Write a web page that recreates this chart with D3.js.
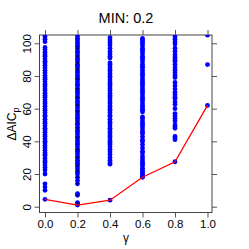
<!DOCTYPE html>
<html>
<head>
<meta charset="utf-8">
<script src="https://cdn.jsdelivr.net/npm/d3@7"></script>
<style>
  body { margin: 0; background: #fff; }
  text { font-family: "Liberation Sans", Arial, sans-serif; }
</style>
</head>
<body>
<svg id="chart" width="249" height="249"></svg>
<script>
// valeurs
const gammas = [0.0, 0.2, 0.4, 0.6, 0.8, 1.0];
const xTicks = ["0.0", "0.2", "0.4", "0.6", "0.8", "1.0"];
const yTicks = [0, 20, 40, 60, 80, 100];

const col00 = [4.5, 10, 12, 14, 20, 22.5, 24, 25.5, 27, 28, 29.5, 31, 32, 33, 34.5, 36, 37.5, 39, 40, 41.5, 43, 44, 45.5, 47, 48, 49.5, 51, 52, 53.5, 55, 56, 57.5, 59, 60, 61.5, 63, 64, 65.5, 67, 68, 69.5, 71, 72, 73.5, 75, 76.5, 78, 79, 80.5, 82, 83.5, 85, 86.5, 88, 89, 90.5, 92, 93, 94.5, 96, 97.5, 101, 102.5, 104];
const col02 = [1, 1.5, 2.5, 7, 8, 14, 16, 18, 20, 21.5, 23, 24.5, 26, 27, 28.5, 30, 31, 32.5, 34, 35, 36.5, 38, 39, 40.5, 42, 43, 44.5, 46, 47, 48.5, 50, 51, 52.5, 54, 55, 56.5, 58, 59, 60.5, 62, 63, 64.5, 66, 67, 68.5, 70, 71, 72.5, 74, 75, 76.5, 78, 79, 80.5, 82, 83, 84.5, 86, 87, 88.5, 90, 91, 92.5, 94, 95, 96.5, 98, 99, 100.5, 102, 103, 104.5];
const col02noir = [2, 7, 14, 18, 22, 25, 30, 35, 42, 48, 52, 58, 62, 67, 72, 78, 84, 88, 92, 97];
const col04 = [4, 26, 27, 28.5, 30, 32, 33.5, 35, 36.5, 38, 39, 40, 41.5, 43, 44, 45.5, 47, 48, 49.5, 51, 52, 53.5, 55, 56, 57.5, 59, 60, 61.5, 63, 64, 65.5, 67, 68, 69.5, 71, 72, 73.5, 75, 76, 77.5, 79, 80, 81.5, 83, 84, 85.5, 87, 88, 91, 92, 93.5, 95, 97, 99, 100.5, 102, 103.5];
const col06 = [18, 18.5, 19.5, 20.5, 21.5, 22.5, 23.5, 25, 26, 27, 28, 29.5, 31, 33, 34, 36, 38, 40, 41, 43, 45, 46, 47.5, 49, 50, 51, 52.5, 54, 55, 58, 59, 60, 61, 62, 63.5, 65, 66, 67, 68.5, 70, 71, 72, 73.5, 75, 76, 77, 78.5, 80, 81, 82, 83.5, 85, 86, 87, 88.5, 90, 91, 92, 93.5, 95, 96, 97, 98.5, 100, 101, 102, 103];
const col08 = [27.5, 41, 42, 43, 48, 49, 50, 52.5, 54, 55.5, 57, 60, 62.5, 64, 66, 67, 68.5, 70, 72, 74, 76, 79, 80.5, 82, 83.5, 85, 87, 89, 90, 91.5, 93, 95, 97, 99.5, 101, 102.5, 104];
const col10 = [62, 87, 105];
// minimum par gamma (courbe rouge)
const minima = [4.5, 1, 4, 18, 27.5, 62];

const colonnes = [col00, col02, col04, col06, col08, col10];

const svg = d3.select("#chart");

// zone du graphique
const boite = { gauche: 39.5, droite: 212, haut: 35, bas: 212.5 };

const x = d3.scaleLinear().domain([0, 1]).range([45, 207.5]);
const y = d3.scaleLinear().domain([0, 100]).range([206.7, 43.3]);

svg.append("defs").append("clipPath").attr("id", "clip")
  .append("rect")
  .attr("x", boite.gauche).attr("y", boite.haut)
  .attr("width", boite.droite - boite.gauche)
  .attr("height", boite.bas - boite.haut);

// axes (style R)
const axeBas = d3.axisBottom(x).tickValues(gammas).tickFormat((d, i) => xTicks[i]).tickSize(5).tickPadding(2);
const axeHaut = d3.axisTop(x).tickValues(gammas).tickFormat("").tickSize(5);
const axeGauche = d3.axisLeft(y).tickValues(yTicks).tickSize(5).tickPadding(3);
const axeDroite = d3.axisRight(y).tickValues(yTicks).tickFormat("").tickSize(5);

function styliser(g) {
  g.select(".domain").remove();
  g.selectAll(".tick line").attr("stroke", "#555");
  g.selectAll(".tick text").attr("fill", "#000").style("font-size", "11.5px");
}

svg.append("g").attr("transform", `translate(0,${boite.bas})`).call(axeBas).call(styliser);
svg.append("g").attr("transform", `translate(0,${boite.haut})`).call(axeHaut).call(styliser);
const gG = svg.append("g").attr("transform", `translate(${boite.gauche},0)`).call(axeGauche).call(styliser);
svg.append("g").attr("transform", `translate(${boite.droite},0)`).call(axeDroite).call(styliser);

// étiquettes verticales sur l'axe y
gG.selectAll(".tick text")
  .attr("text-anchor", "middle")
  .attr("transform", "rotate(-90)")
  .attr("x", 0)
  .attr("dy", 0)
  .attr("y", -9);

// cadre
svg.append("rect")
  .attr("x", boite.gauche).attr("y", boite.haut)
  .attr("width", boite.droite - boite.gauche)
  .attr("height", boite.bas - boite.haut)
  .attr("fill", "none").attr("stroke", "#444").attr("stroke-width", 1);

const zone = svg.append("g").attr("clip-path", "url(#clip)");

// points bleus
colonnes.forEach((col, i) => {
  zone.selectAll(null)
    .data(col)
    .enter()
    .append("circle")
    .attr("cx", x(gammas[i]))
    .attr("cy", d => y(d))
    .attr("r", 2.4)
    .attr("fill", "#0000ff");
});

// points noirs au milieu de la colonne 0.2
zone.selectAll(null)
  .data(col02noir)
  .enter()
  .append("circle")
  .attr("cx", x(0.2))
  .attr("cy", d => y(d))
  .attr("r", 1.1)
  .attr("fill", "#000");

// courbe des minima
const ligne = d3.line().x((d, i) => x(gammas[i])).y(d => y(d));
zone.append("path")
  .datum(minima)
  .attr("d", ligne)
  .attr("fill", "none")
  .attr("stroke", "#ff0000")
  .attr("stroke-width", 1.3);

// titre et libellés
svg.append("text")
  .attr("x", 126).attr("y", 23)
  .attr("text-anchor", "middle")
  .style("font-size", "14.5px")
  .text("MIN: 0.2");

svg.append("text")
  .attr("x", 126).attr("y", 242)
  .attr("text-anchor", "middle")
  .style("font-size", "12px")
  .text("γ");

const yLab = svg.append("text")
  .attr("transform", "translate(16,124) rotate(-90)")
  .attr("text-anchor", "middle")
  .style("font-size", "12px");
yLab.append("tspan").text("ΔAIC");
yLab.append("tspan").attr("dy", 3).style("font-size", "9px").text("p");
</script>
</body>
</html>
